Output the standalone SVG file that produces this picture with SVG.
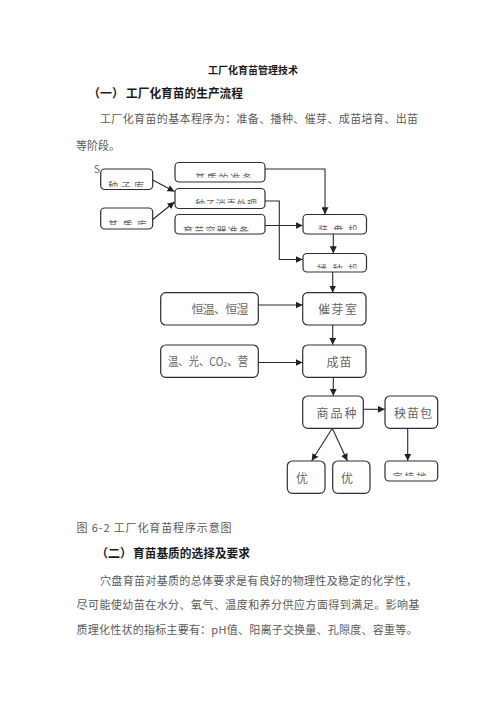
<svg xmlns="http://www.w3.org/2000/svg" width="496" height="702" viewBox="0 0 496 702">
<style>
.bg{fill:#ffffff}
.h{font-family:"Noto Sans CJK SC","Liberation Sans",sans-serif;font-weight:bold;fill:#1a1a1a}
.p{font-family:"Noto Sans CJK SC","Liberation Sans",sans-serif;fill:#5a5a5a;font-size:11px}
.box{fill:#ffffff;stroke:#2e2e2e;stroke-width:1.2}
.bt{font-family:"Noto Sans CJK SC","Liberation Sans",sans-serif;fill:#666666;font-size:12px}
.ct{font-family:"Noto Sans CJK SC","Liberation Sans",sans-serif;fill:#666666;font-size:10px}
.c{fill:none;stroke:#2a2a2a;stroke-width:1.1}
</style>
<defs>
<marker id="ah" viewBox="0 0 10 10" refX="10" refY="5" markerWidth="7" markerHeight="7" markerUnits="userSpaceOnUse" orient="auto">
<path d="M0,0 L10,5 L0,10 z" fill="#222"/>
</marker>
<clipPath id="cL1"><rect x="100" y="170" width="53" height="16.7"/></clipPath>
<clipPath id="cL2"><rect x="100" y="209" width="53" height="16"/></clipPath>
<clipPath id="cT1"><rect x="175" y="163" width="90" height="14.5"/></clipPath>
<clipPath id="cT2"><rect x="175" y="189" width="90" height="15"/></clipPath>
<clipPath id="cT3"><rect x="175" y="215" width="90" height="16.5"/></clipPath>
<clipPath id="cR1"><rect x="303" y="215" width="63" height="15"/></clipPath>
<clipPath id="cR2"><rect x="303" y="254" width="63" height="14.5"/></clipPath>
<clipPath id="cB3"><rect x="385" y="462" width="52" height="14"/></clipPath>
</defs>
<rect class="bg" x="0" y="0" width="496" height="702"/>

<g id="header">
<text class="h" x="253" y="74" font-size="10" text-anchor="middle" textLength="90" lengthAdjust="spacingAndGlyphs">工厂化育苗管理技术</text>
<text class="h" x="88" y="98" font-size="12">（一）</text>
<text class="h" x="126" y="98" font-size="12" textLength="117" lengthAdjust="spacingAndGlyphs">工厂化育苗的生产流程</text>
<text class="p" x="100" y="123" textLength="318" lengthAdjust="spacing">工厂化育苗的基本程序为：准备、播种、催芽、成苗培育、出苗</text>
<text class="p" x="76" y="150" font-size="10">等阶段。</text>
</g>

<text class="ct" x="94" y="173" font-size="8" fill="#444">S</text>

<g id="L1">
<rect class="box" x="100.7" y="169" width="52" height="20.5" rx="4"/>
<text class="ct" x="108" y="189.5" textLength="36" lengthAdjust="spacing" clip-path="url(#cL1)">种子库</text>
</g>
<g id="L2">
<rect class="box" x="100.7" y="208" width="52" height="21" rx="4"/>
<text class="ct" x="108" y="228.5" textLength="39" lengthAdjust="spacing" clip-path="url(#cL2)">基质库</text>
</g>
<g id="T1">
<rect class="box" x="175" y="162.5" width="90" height="19.5" rx="4"/>
<text class="ct" x="195" y="181.5" textLength="57" lengthAdjust="spacing" clip-path="url(#cT1)">基质的准备</text>
</g>
<g id="T2">
<rect class="box" x="175" y="188.5" width="90" height="20" rx="4"/>
<text class="ct" x="195" y="207.5" textLength="62" lengthAdjust="spacing" clip-path="url(#cT2)">种子消毒处理</text>
</g>
<g id="T3">
<rect class="box" x="175" y="214.5" width="90" height="19.5" rx="4"/>
<text class="ct" x="183" y="234.5" textLength="66" lengthAdjust="spacing" clip-path="url(#cT3)">育苗容器准备</text>
</g>
<g id="R1">
<rect class="box" x="303" y="214.5" width="63.5" height="19.5" rx="4"/>
<text class="ct" x="318" y="234" textLength="40" lengthAdjust="spacing" clip-path="url(#cR1)">装盘机</text>
</g>
<g id="R2">
<rect class="box" x="303" y="253.5" width="63.5" height="18.5" rx="4"/>
<text class="ct" x="317" y="272.5" textLength="41" lengthAdjust="spacing" clip-path="url(#cR2)">播种机</text>
</g>

<g id="hengwen">
<rect class="box" x="160.7" y="292.7" width="97.6" height="32.3" rx="5"/>
<text class="bt" x="191.5" y="314" textLength="57" lengthAdjust="spacing">恒温、恒湿</text>
</g>
<g id="cuiyashi">
<rect class="box" x="302.7" y="292.7" width="63.3" height="32.3" rx="5"/>
<text class="bt" x="318" y="314" textLength="39" lengthAdjust="spacing">催芽室</text>
</g>
<g id="wenguang">
<rect class="box" x="160.7" y="345" width="97.6" height="32.3" rx="5"/>
<text class="bt" x="168" y="366" font-size="11" textLength="80" lengthAdjust="spacingAndGlyphs">温、光、CO₂、营</text>
</g>
<g id="chengmiao">
<rect class="box" x="302.7" y="345" width="63.3" height="32.3" rx="5"/>
<text class="bt" x="326.5" y="366.5" textLength="25" lengthAdjust="spacing">成苗</text>
</g>
<g id="shangpin">
<rect class="box" x="302.7" y="396" width="60.6" height="32.3" rx="5"/>
<text class="bt" x="316.5" y="417.5" textLength="40" lengthAdjust="spacing">商品种</text>
</g>
<g id="yangmiao">
<rect class="box" x="385" y="396" width="52.7" height="32.3" rx="5"/>
<text class="bt" x="394" y="417.5" textLength="38" lengthAdjust="spacing">秧苗包</text>
</g>
<g id="you1">
<rect class="box" x="287.3" y="461" width="37.7" height="32.3" rx="5"/>
<text class="bt" x="296" y="483">优</text>
</g>
<g id="you2">
<rect class="box" x="332.7" y="461" width="37.3" height="32.3" rx="5"/>
<text class="bt" x="341" y="483">优</text>
</g>
<g id="B3">
<rect class="box" x="385" y="461" width="52.7" height="20" rx="4"/>
<text class="ct" x="392.5" y="481" textLength="34" lengthAdjust="spacing" clip-path="url(#cB3)">定植地</text>
</g>

<g id="connectors">
<path class="c" d="M152.7,180 L174.5,191.5" marker-end="url(#ah)"/>
<path class="c" d="M152.7,219.5 L174.5,202" marker-end="url(#ah)"/>
<path class="c" d="M265,169 H325 V214.3" marker-end="url(#ah)"/>
<path class="c" d="M265,201 H279.3 V259.5 H302.7" marker-end="url(#ah)"/>
<path class="c" d="M265,225.5 H302.7" marker-end="url(#ah)"/>
<path class="c" d="M333.3,234 V253.3" marker-end="url(#ah)"/>
<path class="c" d="M332.7,272 V292.5" marker-end="url(#ah)"/>
<path class="c" d="M258.3,305 H302.5" marker-end="url(#ah)"/>
<path class="c" d="M332.7,325 V344.8" marker-end="url(#ah)"/>
<path class="c" d="M258.3,362.5 H302.5" marker-end="url(#ah)"/>
<path class="c" d="M333.3,377.3 V395.8" marker-end="url(#ah)"/>
<path class="c" d="M363.3,409.3 H384.8" marker-end="url(#ah)"/>
<path class="c" d="M407.7,428.3 V460.8" marker-end="url(#ah)"/>
<path class="c" d="M332.3,428.3 L311.7,460.8" marker-end="url(#ah)"/>
<path class="c" d="M332.3,428.3 L347.3,460.8" marker-end="url(#ah)"/>
</g>

<g id="body">
<text class="p" x="76.5" y="532" textLength="155" lengthAdjust="spacing">图 6-2 工厂化育苗程序示意图</text>
<text class="h" x="96" y="558" font-size="12">（二）</text>
<text class="h" x="133" y="558" font-size="12" textLength="117" lengthAdjust="spacingAndGlyphs">育苗基质的选择及要求</text>
<text class="p" x="100" y="585" textLength="317" lengthAdjust="spacing">穴盘育苗对基质的总体要求是有良好的物理性及稳定的化学性，</text>
<text class="p" x="76.5" y="609" textLength="343" lengthAdjust="spacing">尽可能使幼苗在水分、氧气、温度和养分供应方面得到满足。影响基</text>
<text class="p" x="76.5" y="634" textLength="341" lengthAdjust="spacing">质理化性状的指标主要有：pH值、阳离子交换量、孔隙度、容重等。</text>
</g>
</svg>
